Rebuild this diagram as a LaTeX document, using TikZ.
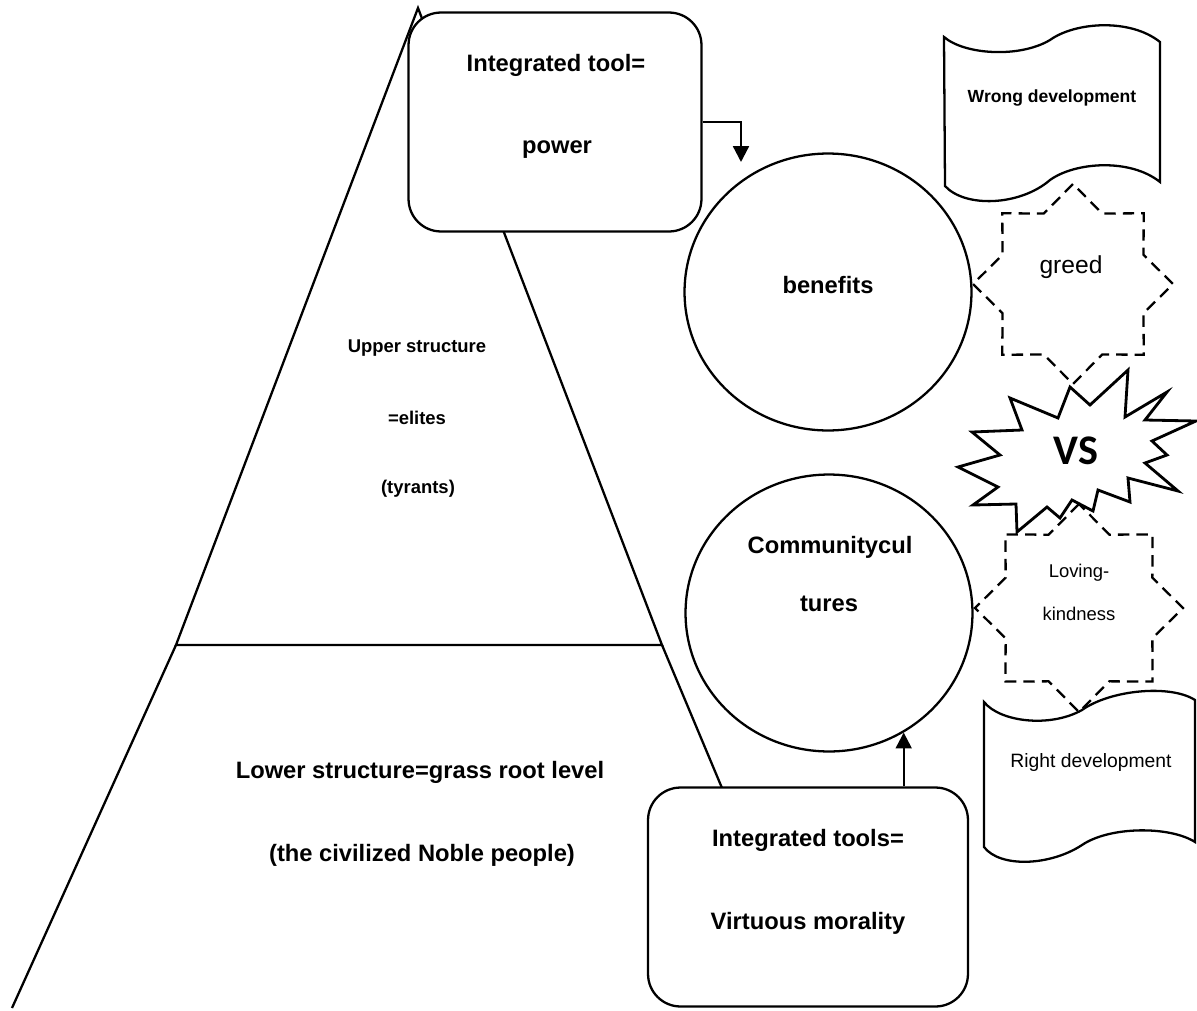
\documentclass[tikz,border=0pt]{standalone}
\usepackage{fontspec}
\setmainfont{Liberation Sans}
\newfontfamily\vsfont{Carlito}
\usetikzlibrary{shapes.geometric,arrows.meta}
\tikzset{
  edge/.style={line width=1.3pt},
  toolbox/.style={draw, line width=1.3pt, rounded corners=0.65cm, fill=white, minimum height=4.38cm},
  bubble/.style={draw, ellipse, line width=1.3pt, minimum width=5.74cm, minimum height=5.54cm},
  dstar/.style={draw, star, star points=8, star point ratio=1.31, line width=1.3pt, dash pattern=on 6.5pt off 4pt},
  banner/.style={draw, line width=1.3pt, fill=white},
  burst/.style={draw, line width=1.6pt, fill=white},
  arr/.style={line width=1.3pt, -{Triangle[width=9pt,length=9pt]}},
  bigtxt/.style={font=\fontsize{13.5}{16}\selectfont\bfseries},
  midtxt/.style={font=\fontsize{10.5}{13}\selectfont\bfseries},
  tagtxt/.style={font=\fontsize{10}{12}\selectfont\bfseries},
  plaintxt/.style={font=\fontsize{11}{13}\selectfont},
  smalltxt/.style={font=\fontsize{10.5}{12}\selectfont}
}

\begin{document}
\begin{tikzpicture}[x=0.02cm, y=-0.02cm]
  \useasboundingbox (0,0) rectangle (1197,1011);

  % pyramid
  \coordinate (apex) at (418,8);
  \coordinate (ul) at (176,645);
  \coordinate (ur) at (662,645);
  \coordinate (ll) at (12,1008);
  \coordinate (lr) at (722,788);
  \draw[edge] (apex) -- (ul) -- (ur) -- cycle;
  \draw[edge] (ul) -- (ll);
  \draw[edge] (ur) -- (lr);

  \node[midtxt] (upper) at (417,348) {Upper structure};
  \node[midtxt] (elites) at (417,418) {=elites};
  \node[midtxt] (tyrants) at (418,489) {(tyrants)};
  \node[bigtxt] (lower) at (420,772) {Lower structure=grass root level};
  \node[bigtxt] (noble) at (422,855) {(the civilized Noble people)};

  % tool boxes
  \node[toolbox, minimum width=5.86cm] (power) at (555,122) {};
  \node[bigtxt] (powerA) at (556,65) {Integrated tool=};
  \node[bigtxt] (powerB) at (557,150) {power};
  \node[toolbox, minimum width=6.4cm] (virtue) at (808,897) {};
  \node[bigtxt] (virtueA) at (808,840) {Integrated tools=};
  \node[bigtxt] (virtueB) at (808,923) {Virtuous morality};

  % circles
  \node[bubble] (benefits) at (828,292) {};
  \node[bigtxt] (benefitsA) at (828,285) {benefits};
  \node[bubble] (culture) at (829,613) {};
  \node[bigtxt] (cultureA) at (830,547) {Communitycul};
  \node[bigtxt] (cultureB) at (829,604) {tures};

  % stars
  \node[dstar, minimum size=4cm] (greed) at (1073,284) {};
  \node[font=\fontsize{14}{16}\selectfont] (greedA) at (1071,267) {greed};
  \node[dstar, minimum size=4.16cm] (loving) at (1079,608) {};
  \node[smalltxt] (lovingA) at (1079,573) {Loving-};
  \node[smalltxt] (lovingB) at (1079,614) {kindness};

  % banners
  \draw[banner] (944,37) .. controls (965,55) and (1020,58) .. (1050,40)
    .. controls (1075,22) and (1130,18) .. (1160,42) -- (1160,182)
    .. controls (1130,158) and (1075,162) .. (1050,180)
    .. controls (1020,206) and (965,208) .. (945,186) -- cycle;
  \node[tagtxt] (wrong) at (1052,98) {Wrong development};
  \draw[banner] (984,702) .. controls (1000,722) and (1050,728) .. (1082,710)
    .. controls (1110,690) and (1170,684) .. (1195,700) -- (1195,842)
    .. controls (1170,826) and (1110,826) .. (1082,845)
    .. controls (1050,866) and (1000,868) .. (984,847) -- cycle;
  \node[plaintxt] (right) at (1091,762) {Right development};

  % VS burst
  \draw[burst] (958,467) -- (1000,455) -- (972,432) -- (1022,430) -- (1010,398)
    -- (1058,418) -- (1070,387) -- (1090,405) -- (1128,370) -- (1125,417)
    -- (1167,392) -- (1145,420) -- (1196,421) -- (1152,441) -- (1167,455)
    -- (1145,463) -- (1178,491) -- (1128,478) -- (1130,502) -- (1098,490)
    -- (1093,511) -- (1072,500) -- (1060,518) -- (1047,507) -- (1017,532)
    -- (1016,504) -- (973,505) -- (998,487) -- cycle;
  \node[font=\vsfont\bfseries\fontsize{24}{28}\selectfont] (vs) at (1076,451) {VS};

  % arrows
  \coordinate (drop) at (741,162);
  \draw[arr] (power.east) -| (drop);
  \draw[arr] (virtue.north -| culture.-58) -- (culture.-58);
\end{tikzpicture}
\end{document}
